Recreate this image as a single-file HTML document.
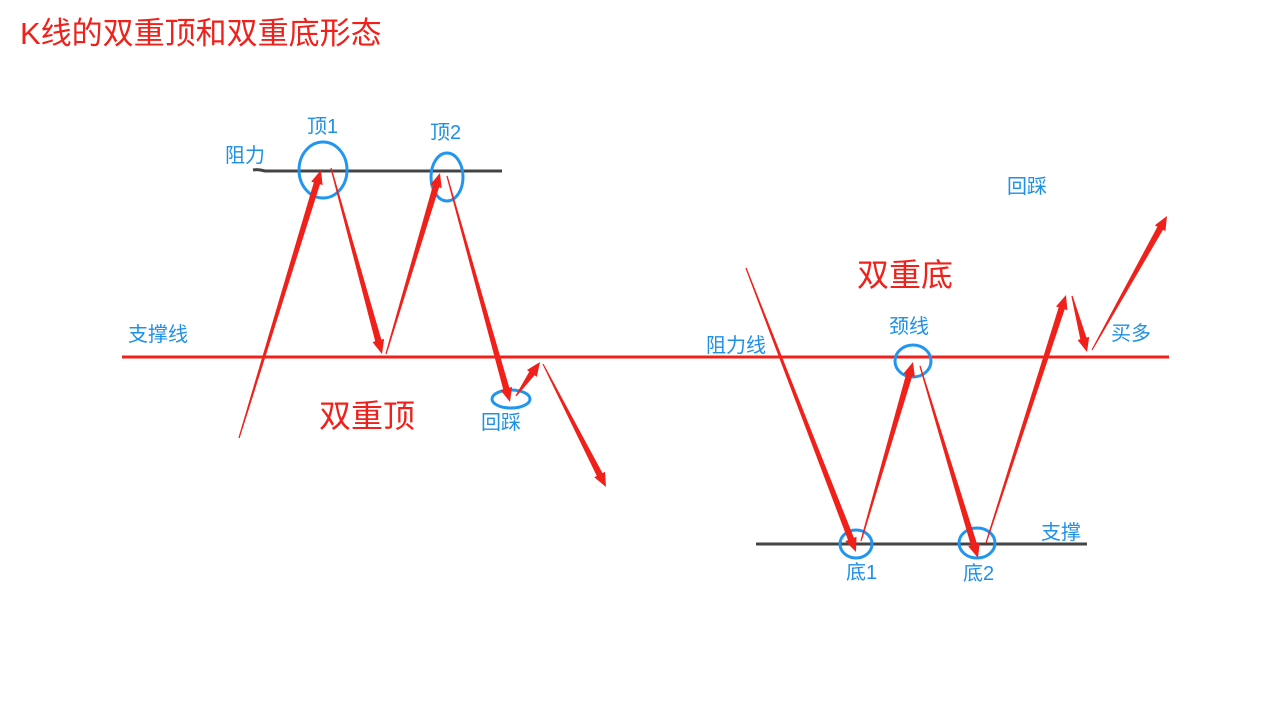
<!DOCTYPE html>
<html><head><meta charset="utf-8">
<style>
body{margin:0;background:#fff;width:1264px;height:713px;overflow:hidden;position:relative;font-family:"Liberation Sans","Noto Sans CJK SC",sans-serif}
.t{position:absolute;white-space:nowrap;line-height:1}
.b{color:#1e90e8;font-size:20px}
.r{color:#f0201a}
</style></head><body>
<svg id="s" width="1264" height="713" style="position:absolute;left:0;top:0">
<line x1="122" y1="357" x2="1169" y2="357" stroke="#f0201a" stroke-width="3"/>
<path d="M253 170 Q258 169 265 171 L502 171" stroke="#444" stroke-width="3" fill="none"/>
<line x1="756" y1="544" x2="1087" y2="544" stroke="#444" stroke-width="3"/>
<g fill="none" stroke="#2196f0" stroke-width="3">
<ellipse cx="323" cy="170" rx="24" ry="28"/>
<ellipse cx="447" cy="177" rx="16" ry="24"/>
<ellipse cx="511" cy="399" rx="19" ry="9"/>
<ellipse cx="913" cy="361" rx="18" ry="16"/>
<ellipse cx="856" cy="544" rx="16" ry="14"/>
<ellipse cx="977" cy="543" rx="18" ry="15"/>
</g>
</svg>
<script>
var A=[[239,438,321,170],[331,168,382,354],[386,354,440,173],[447,176,510,402],[516,396,540,362],[543,364,606,487],
[746,268,856,552],[861,541,913,362],[920,366,978,558],[986,543,1066,295],[1072,296,1087,352],[1092,350,1167,216]];
var s=document.getElementById('s'),h='';
A.forEach(function(a){var x1=a[0],y1=a[1],x2=a[2],y2=a[3],dx=x2-x1,dy=y2-y1,L=Math.hypot(dx,dy),ux=dx/L,uy=dy/L,nx=-uy,ny=ux;
var hl=14,hw=6,w0=0.6,w1=3.2;var bx=x2-ux*hl,by=y2-uy*hl;
var p=[[x1+nx*w0,y1+ny*w0],[bx+nx*w1,by+ny*w1],[bx+nx*hw,by+ny*hw],[x2,y2],[bx-nx*hw,by-ny*hw],[bx-nx*w1,by-ny*w1],[x1-nx*w0,y1-ny*w0]];
h+='<polygon fill="#f0201a" points="'+p.map(function(q){return q[0].toFixed(1)+','+q[1].toFixed(1)}).join(' ')+'"/>';});
s.insertAdjacentHTML('beforeend',h);
</script>
<div class="t r" style="left:20px;top:18px;font-size:31px">K线的双重顶和双重底形态</div>
<div class="t b" style="left:307px;top:117px">顶1</div>
<div class="t b" style="left:430px;top:123px">顶2</div>
<div class="t b" style="left:225px;top:146px">阻力</div>
<div class="t b" style="left:128px;top:325px">支撑线</div>
<div class="t r" style="left:319px;top:400px;font-size:32px">双重顶</div>
<div class="t b" style="left:481px;top:413px">回踩</div>
<div class="t b" style="left:1007px;top:177px">回踩</div>
<div class="t r" style="left:857px;top:259px;font-size:32px">双重底</div>
<div class="t b" style="left:889px;top:317px">颈线</div>
<div class="t b" style="left:706px;top:336px">阻力线</div>
<div class="t b" style="left:1111px;top:324px">买多</div>
<div class="t b" style="left:1041px;top:523px">支撑</div>
<div class="t b" style="left:846px;top:563px">底1</div>
<div class="t b" style="left:963px;top:564px">底2</div>
</body></html>
